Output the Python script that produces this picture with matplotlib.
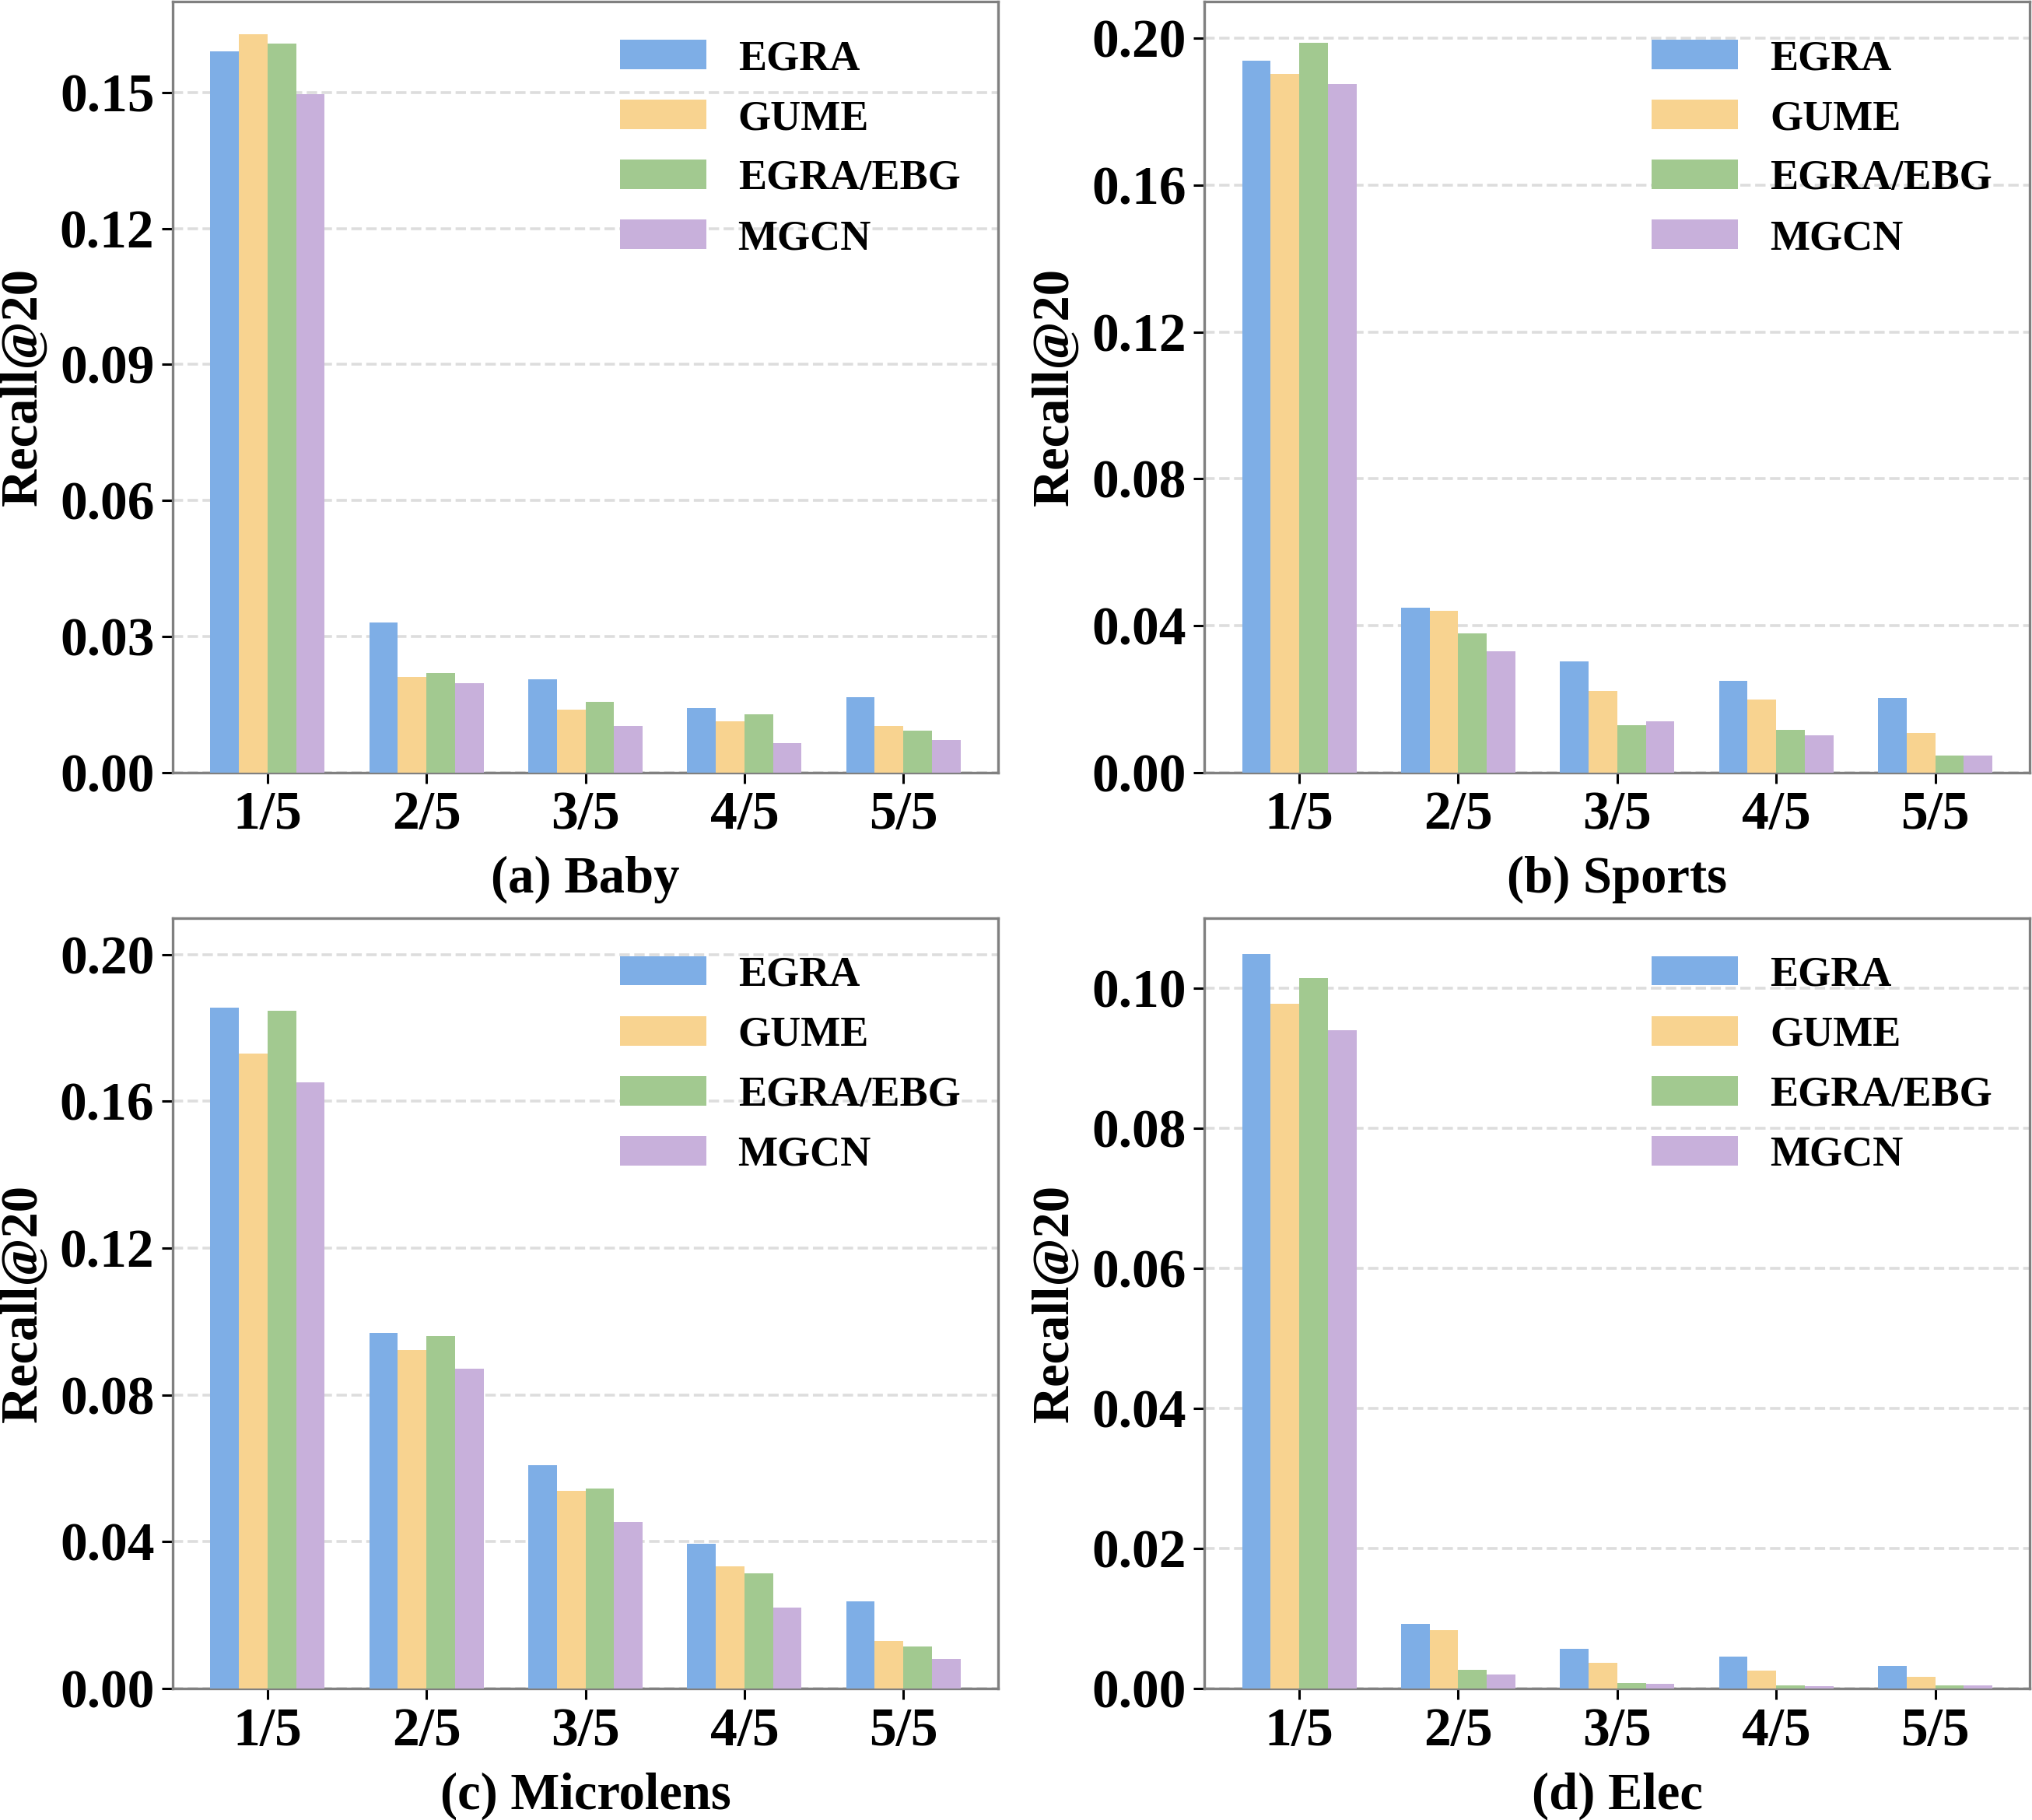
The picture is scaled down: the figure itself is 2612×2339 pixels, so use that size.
import matplotlib
matplotlib.use('Agg')
import matplotlib.pyplot as plt
import numpy as np

plt.rcParams['font.family'] = ['Liberation Serif', 'DejaVu Serif']
plt.rcParams['font.weight'] = 'bold'

# data
groups = ['1/5', '2/5', '3/5', '4/5', '5/5']
methods = ['EGRA', 'GUME', 'EGRA/EBG', 'MGCN']
colors = ['#7EAEE6', '#F8D390', '#A2C990', '#C8B0DB']

baby = [
    [0.1590, 0.0331, 0.0206, 0.0141, 0.0165],
    [0.1628, 0.0210, 0.0138, 0.0112, 0.0103],
    [0.1608, 0.0219, 0.0155, 0.0128, 0.0092],
    [0.1496, 0.0197, 0.0103, 0.0064, 0.0072],
]
sports = [
    [0.1939, 0.0448, 0.0303, 0.0249, 0.0203],
    [0.1904, 0.0440, 0.0222, 0.0199, 0.0107],
    [0.1989, 0.0378, 0.0128, 0.0115, 0.0045],
    [0.1876, 0.0329, 0.0139, 0.0100, 0.0045],
]
microlens = [
    [0.1855, 0.0968, 0.0609, 0.0395, 0.0237],
    [0.1731, 0.0923, 0.0538, 0.0332, 0.0130],
    [0.1847, 0.0960, 0.0545, 0.0313, 0.0114],
    [0.1651, 0.0871, 0.0454, 0.0220, 0.0081],
]
elec = [
    [0.1049, 0.0092, 0.0056, 0.0045, 0.0032],
    [0.0978, 0.0083, 0.0037, 0.0025, 0.0017],
    [0.1014, 0.0026, 0.0008, 0.0004, 0.0004],
    [0.0940, 0.0020, 0.0007, 0.0003, 0.0004],
]

panels = [
    ('(a) Baby', baby, 0.17, np.arange(0, 0.151, 0.03)),
    ('(b) Sports', sports, 0.21, np.arange(0, 0.201, 0.04)),
    ('(c) Microlens', microlens, 0.21, np.arange(0, 0.201, 0.04)),
    ('(d) Elec', elec, 0.11, np.arange(0, 0.101, 0.02)),
]

fig, axes = plt.subplots(2, 2, figsize=(13.06, 11.695), dpi=200)
plt.subplots_adjust(left=0.085, right=0.999, top=0.999, bottom=0.0723,
                    wspace=0.25, hspace=0.189)

x = np.arange(len(groups))
w = 0.18
for ax, (title, data, ytop, yt) in zip(axes.flat, panels):
    for i, (m, c) in enumerate(zip(methods, colors)):
        ax.bar(x + (i - 1.5) * w, data[i], w, color=c, label=m, zorder=3)
    ax.set_xticks(x)
    ax.set_xticklabels(groups, fontsize=25, fontweight='bold')
    ax.set_yticks(yt)
    ax.set_yticklabels(['%.2f' % v for v in yt], fontsize=25, fontweight='bold')
    ax.set_ylim(0, ytop)
    ax.set_xlabel(title, fontsize=24, fontweight='bold', labelpad=7)
    ax.set_ylabel('Recall@20', fontsize=24, fontweight='bold', labelpad=6)
    ax.yaxis.grid(True, linestyle='--', color='#dddddd', linewidth=1.3, zorder=0)
    ax.set_axisbelow(True)
    for s in ax.spines.values():
        s.set_color('#808080')
        s.set_linewidth(1.2)
    ax.tick_params(length=5, width=1.1, color='black')
    ax.legend(loc='upper right', frameon=False, handletextpad=0.75,
              handlelength=2.05, labelspacing=0.5,
              prop={'size': 19.5, 'weight': 'bold'})

plt.savefig('out.png', dpi=200)
